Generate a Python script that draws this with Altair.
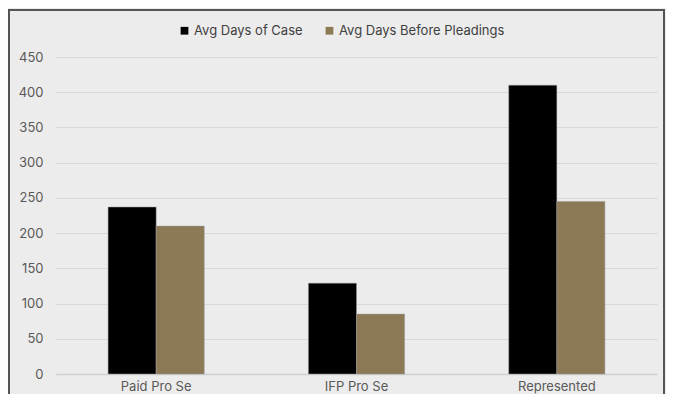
import altair as alt
import pandas as pd

categories = ["Paid Pro Se", "IFP Pro Se", "Represented"]
series = ["Avg Days of Case", "Avg Days Before Pleadings"]
avg_days_case = [237, 129, 410]
avg_days_pleadings = [210, 85, 245]
colors = ["#000000", "#8c7a57"]

rows = []
for c, a, b in zip(categories, avg_days_case, avg_days_pleadings):
    rows.append({"category": c, "series": series[0], "value": a})
    rows.append({"category": c, "series": series[1], "value": b})
df = pd.DataFrame(rows)

FONT = "Inter"

bars = alt.Chart(df).mark_bar(stroke="#9a9a9a", strokeWidth=0.5).encode(
    x=alt.X("category:N", sort=categories, title=None,
            scale=alt.Scale(paddingInner=0.52, paddingOuter=0.26),
            axis=alt.Axis(labelAngle=0, labelFontSize=13, labelColor="#595959",
                          labelFont=FONT, labelPadding=6, ticks=False,
                          domainColor="#d0d0d0", domainWidth=1.5)),
    xOffset=alt.XOffset("series:N", sort=series),
    y=alt.Y("value:Q", title=None,
            scale=alt.Scale(domain=[0, 450]),
            axis=alt.Axis(values=list(range(0, 451, 50)), labelFontSize=13,
                          labelColor="#595959", labelFont=FONT, labelPadding=13,
                          ticks=False, domain=False, gridColor="#d9d9d9",
                          gridWidth=1)),
    color=alt.Color("series:N", sort=series,
                    scale=alt.Scale(domain=series, range=colors),
                    legend=alt.Legend(title=None, orient="none", direction="horizontal",
                                      legendX=122, legendY=-33, symbolType="square",
                                      symbolSize=60, symbolStrokeWidth=0,
                                      labelFontSize=13, labelColor="#404040",
                                      labelFont=FONT, columnPadding=20,
                                      labelOffset=3, labelLimit=300)),
)

border = alt.Chart(pd.DataFrame({"a": [0]})).mark_rect(
    fill=None, stroke="#555555", strokeWidth=2
).encode(x=alt.value(-47), x2=alt.value(608), y=alt.value(-47), y2=alt.value(380))

chart = alt.layer(bars, border).properties(
    width=601, height=317,
    background="#ececec",
    padding={"left": 48, "top": 49, "right": 9, "bottom": 20},
    autosize=alt.AutoSizeParams(type="none"),
).configure_view(stroke=None)

chart.save("out.html", embed_options={"renderer": "svg", "actions": False})
